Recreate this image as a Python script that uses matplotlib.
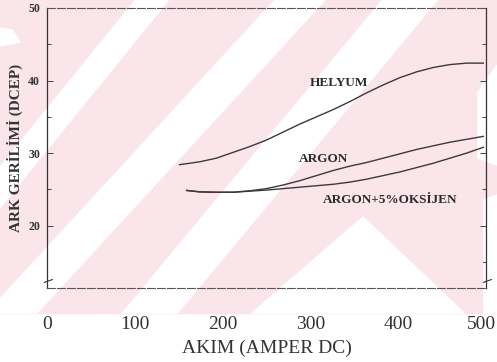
import matplotlib
matplotlib.use("Agg")
import matplotlib.pyplot as plt
import matplotlib.transforms as mtransforms
from matplotlib.patches import Polygon, Rectangle

W, H = 497, 362

# arc voltage (V) vs welding current (A) for each shielding gas
current_he = [151, 174, 193, 212, 231, 250, 269, 288, 307, 326, 345, 364, 383, 402,
              421, 440, 459, 478, 497]
volt_he = [28.4, 28.8, 29.3, 30.1, 30.9, 31.8, 32.9, 34.0, 35.0, 36.0, 37.1, 38.3, 39.4,
           40.4, 41.2, 41.8, 42.2, 42.4, 42.4]
current_ar = [159, 174, 193, 212, 231, 250, 269, 288, 307, 326, 345, 364, 383, 402,
              421, 440, 459, 478, 497]
volt_ar = [24.85, 24.65, 24.6, 24.6, 24.8, 25.1, 25.6, 26.2, 26.9, 27.6, 28.2, 28.7, 29.3,
           29.9, 30.5, 31.0, 31.5, 31.9, 32.3]
current_ox = [159, 174, 193, 212, 231, 250, 269, 288, 307, 326, 345, 364, 383, 402,
              421, 440, 459, 478, 497]
volt_ox = [24.85, 24.65, 24.6, 24.6, 24.75, 24.9, 25.1, 25.3, 25.5, 25.7, 26.0, 26.4, 26.9,
           27.4, 28.0, 28.6, 29.3, 30.0, 30.8]

labels = ["HELYUM", "ARGON", "ARGON+5%OKSİJEN"]
label_pos = [(332, 39.6), (315, 29.2), (391, 23.5)]

x_ticks = [0, 100, 200, 300, 400, 500]
y_ticks = [20, 30, 40, 50]

PINK = "#fae5ea"


def px(pts):
    return [(x / W, 1 - y / H) for x, y in pts]


def band(x_top, x_bot, width, y0=0, y1=313):
    return [(x_top - width / 2, y0), (x_top + width / 2, y0),
            (x_bot + width / 2, y1), (x_bot - width / 2, y1)]


fig = plt.figure(figsize=(W / 100, H / 100), dpi=100)
fig.patch.set_facecolor("white")

# faint striped background
fig.patches.append(Rectangle((0, 1 - 313 / H), 1, 313 / H, transform=fig.transFigure,
                             color=PINK, zorder=-10))
white_shapes = [
    band(152, -102, 33),
    band(300, 12, 50),
    band(410, 150, 55),
    [(363, 217), (464, 313), (252, 313)],
    [(497, 65), (497, 165), (478, 158), (478, 92)],
    [(484, 200), (497, 195), (497, 313), (484, 313)],
    [(0, 28), (12, 30), (20, 42), (0, 46)],
]
for shp in white_shapes:
    fig.patches.append(Polygon(px(shp), closed=True, transform=fig.transFigure,
                               color="white", zorder=-9))

ax = fig.add_axes([47 / W, 1 - 288 / H, (486 - 47) / W, 280 / H])
ax.set_facecolor("none")

line_kw = dict(color="#3a3a3a", linewidth=1.0)
ax.plot(current_he, volt_he, **line_kw)
ax.plot(current_ar, volt_ar, **line_kw)
ax.plot(current_ox, volt_ox, **line_kw)

for txt, (x, y) in zip(labels, label_pos):
    ax.text(x, y, txt, ha="center", va="center", fontsize=9.5, fontweight="bold",
            family="Liberation Serif", color="#2a2a2a")

ax.set_xlim(0, 500)
ax.set_ylim(11.4, 50)
ax.set_xticks(x_ticks)
ax.set_xticklabels([str(v) for v in x_ticks], family="Liberation Serif", fontsize=14,
                   color="#333333")
ax.tick_params(axis="x", length=0, pad=20)
# last label sits against the figure edge
last = ax.get_xticklabels()[-1]
last.set_horizontalalignment("right")
last.set_transform(last.get_transform() + mtransforms.ScaledTranslation(0.10, 0, fig.dpi_scale_trans))

ax.set_yticks(y_ticks)
ax.set_yticks([25, 35, 45], minor=True)
ax.set_yticklabels([str(v) for v in y_ticks], family="Liberation Serif", fontsize=8.5,
                   fontweight="bold", color="#333333")
ax.tick_params(axis="y", which="both", direction="in", right=True, color="#444444",
               width=0.7, pad=5)
ax.tick_params(axis="y", which="major", length=4)
ax.tick_params(axis="y", which="minor", length=3)
# extra minor mark at 15 on the right-hand axis only
ax.plot([1.0, 0.993], [15, 15], transform=ax.get_yaxis_transform(), color="#444444",
        linewidth=0.7, clip_on=False)

for side in ["left", "right"]:
    ax.spines[side].set_color("#333333")
    ax.spines[side].set_linewidth(0.9)
for side in ["top", "bottom"]:
    ax.spines[side].set_color("#555555")
    ax.spines[side].set_linewidth(0.8)
    ax.spines[side].set_linestyle((0, (7, 2)))

# axis break marks near the bottom of both vertical axes
for xa in (0.0, 1.0):
    ax.plot([xa - 0.006, xa + 0.012], [0.02, 0.03], transform=ax.transAxes,
            color="#333333", linewidth=0.8, clip_on=False)

ax.set_xlabel("AKIM (AMPER DC)", family="Liberation Serif", fontsize=14,
              color="#333333", labelpad=5)
ax.set_ylabel("ARK GERİLİMİ (DCEP)", family="Liberation Serif", fontsize=11,
              fontweight="bold", color="#333333", labelpad=4)

fig.savefig("out.png", dpi=100)
